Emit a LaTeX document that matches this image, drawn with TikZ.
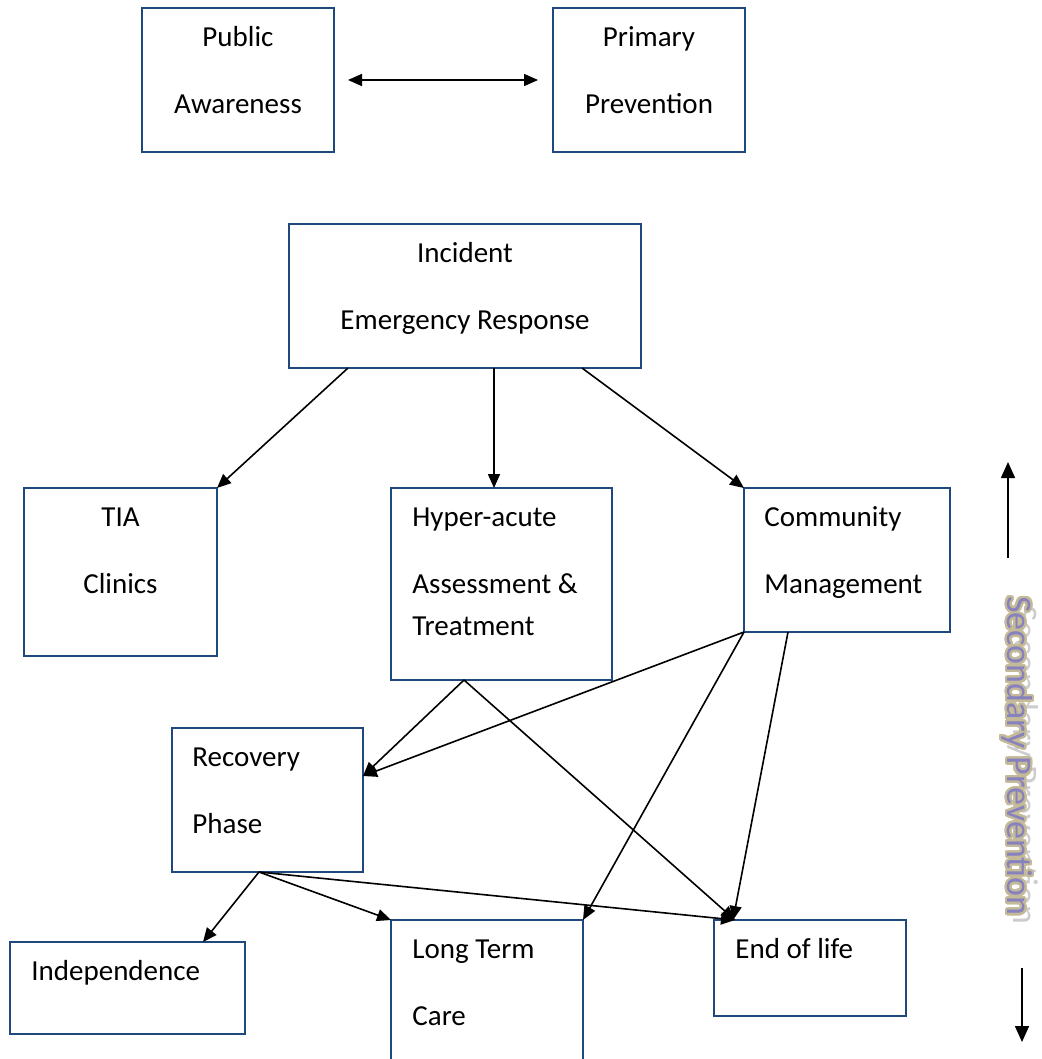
\documentclass[tikz,border=0pt]{standalone}
\usepackage{fontspec}
\setmainfont{Carlito}
\usepackage[copies]{contour}
\usetikzlibrary{arrows.meta,calc}
\definecolor{boxblue}{HTML}{1F497D}
\definecolor{sectan}{RGB}{196,186,152}
\definecolor{secgray}{RGB}{205,205,205}
\definecolor{secblue}{RGB}{135,130,190}
\newcommand{\fstrut}{\rule{0pt}{12pt}}
\contourlength{1.1pt}
\contournumber{24}

\begin{document}
\begin{tikzpicture}[x=0.5pt, y=-0.5pt, >={Triangle[length=7pt,width=6pt]},
    box/.style = {draw=boxblue, line width=1pt, inner sep=0pt, outer sep=0pt},
    ctext/.style = {inner sep=0pt, anchor=north, align=center, font=\fontsize{14.5}{33.5}\selectfont},
    ltext/.style = {inner sep=0pt, anchor=north west, align=left, font=\fontsize{14.5}{33.5}\selectfont},
    link/.style = {->, line width=0.8pt},
    sec/.style = {rotate=-90, inner sep=0pt, font=\fontsize{18}{18}\selectfont}]
\useasboundingbox (0,0) rectangle (1041,1059);
\clip (0,0) rectangle (1041,1059);

% boxes
\node[box, minimum width=96pt, minimum height=72pt] (pa) at (238,80) {};
\node[box, minimum width=96pt, minimum height=72pt] (pp) at (649,80) {};
\node[box, minimum width=176pt, minimum height=72pt] (inc) at (465,296) {};
\node[box, minimum width=96.5pt, minimum height=84pt] (tia) at (120.5,572) {};
\node[box, minimum width=110.5pt, minimum height=96pt] (hyp) at (501.5,584) {};
\node[box, minimum width=103pt, minimum height=72pt] (com) at (847,560) {};
\node[box, minimum width=95.5pt, minimum height=72pt] (rec) at (267.5,800) {};
\node[box, minimum width=117.5pt, minimum height=46pt] (ind) at (127.5,988) {};
\node[box, minimum width=96pt, minimum height=90pt] (ltc) at (487,1010) {};
\node[box, minimum width=96pt, minimum height=48pt] (eol) at (810,968) {};

% texts
\node[ctext] (pa-t) at ($(pa.north)+(0,14)$) {\fstrut Public\\Awareness};
\node[ctext] (pp-t) at ($(pp.north)+(0,14)$) {\fstrut Primary\\Prevention};
\node[ctext] (inc-t) at ($(inc.north)+(0,14)$) {\fstrut Incident\\Emergency Response};
\node[ctext] (tia-t) at ($(tia.north)+(0,14)$) {\fstrut TIA\\Clinics};
\node[ltext] (hyp-t) at ($(hyp.north west)+(21,14)$) {\fstrut Hyper-acute\\Assessment \&\\[-12.5pt]Treatment};
\node[ltext] (com-t) at ($(com.north west)+(20,14)$) {\fstrut Community\\Management};
\node[ltext] (rec-t) at ($(rec.north west)+(20,14)$) {\fstrut Recovery\\Phase};
\node[ltext] (ind-t) at ($(ind.north west)+(21,14)$) {\fstrut Independence};
\node[ltext] (ltc-t) at ($(ltc.north west)+(21,14)$) {\fstrut Long Term\\Care};
\node[ltext] (eol-t) at ($(eol.north west)+(21,14)$) {\fstrut End of life};

% connectors
\draw[link, <->] ([xshift=7pt]pa.east) -- ([xshift=-7.5pt]pp.west);
\draw[link] ($(inc.south west)+(59,0)$) -- (tia.north east);
\draw[link] ($(inc.south west)+(205,0)$) -- ($(hyp.north west)+(103,0)$);
\draw[link] ($(inc.south west)+(293,0)$) -- (com.north west);
\draw[link] ($(hyp.south west)+(73,0)$) -- ($(rec.north east)+(0,48)$);
\draw[link] ($(hyp.south west)+(73,0)$) -- ($(eol.north west)+(21,0)$);
\draw[link] (com.south west) -- ($(rec.north east)+(0,48)$);
\draw[link] (com.south west) -- (ltc.north east);
\draw[link] ($(com.south west)+(44,0)$) -- ($(eol.north west)+(19,0)$);
\draw[link] ($(rec.south west)+(87,0)$) -- ($(ind.north west)+(193,0)$);
\draw[link] ($(rec.south west)+(87,0)$) -- (ltc.north west);
\draw[link] ($(rec.south west)+(87,0)$) -- ($(eol.north west)+(21,0)$);

% secondary prevention
\coordinate (up-a) at (1008,558);
\coordinate (up-b) at (1008,462);
\coordinate (dn-a) at (1022,968);
\coordinate (dn-b) at (1022,1042);
\draw[link, -{Triangle[length=8pt,width=7pt]}] (up-a) -- (up-b);
\draw[link, -{Triangle[length=8pt,width=7pt]}] (dn-a) -- (dn-b);
\node[sec, text=secgray] (sec-sh) at (1023,765) {Secondary Prevention};
\node[sec] (sec-t) at (1016,756) {\contour{sectan}{\textcolor{secblue}{Secondary Prevention}}};
\end{tikzpicture}
\end{document}
